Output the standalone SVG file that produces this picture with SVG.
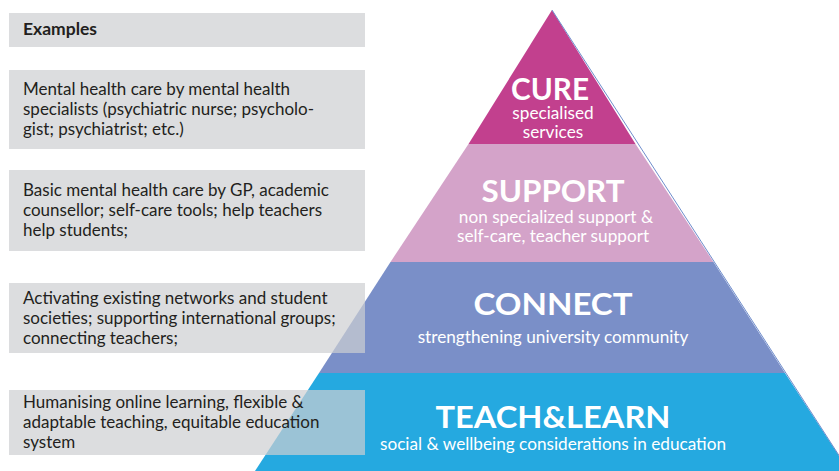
<svg xmlns="http://www.w3.org/2000/svg" width="839" height="471" viewBox="0 0 839 471">
<style>
.box{fill:#cdced2;fill-opacity:0.7}
.ex{font-family:Lato,"Liberation Sans",sans-serif;font-size:17px;fill:#231f20}
.exb{font-family:Lato,"Liberation Sans",sans-serif;font-size:17.5px;font-weight:700;fill:#231f20}
.ttl{font-family:Lato,"Liberation Sans",sans-serif;font-weight:700;fill:#ffffff;text-anchor:middle;font-size:31px}
.sub{font-family:Lato,"Liberation Sans",sans-serif;fill:#ffffff;text-anchor:middle;font-size:17.2px}
</style>
<rect width="839" height="471" fill="#ffffff"/>
<g id="pyramid">
<g id="level-cure">
<polygon points="552,10 635.5,144 468.5,144" fill="#c2408e"/>
<text class="ttl" x="550" y="100" textLength="78" lengthAdjust="spacingAndGlyphs">CURE</text>
<text class="sub" x="553" y="119">specialised</text>
<text class="sub" x="553" y="138">services</text>
</g>
<g id="level-support">
<polygon points="468.5,144 635.5,144 713.5,262 390.5,262" fill="#d4a3c9"/>
<text class="ttl" x="553" y="202" textLength="143" lengthAdjust="spacingAndGlyphs">SUPPORT</text>
<text class="sub" x="556" y="223">non specialized support &amp;</text>
<text class="sub" x="553" y="242">self-care, teacher support</text>
</g>
<g id="level-connect">
<polygon points="390.5,262 713.5,262 785,373 319,373" fill="#7a8fc8"/>
<text class="ttl" x="553" y="315" textLength="159" lengthAdjust="spacingAndGlyphs">CONNECT</text>
<text class="sub" x="553" y="343">strengthening university community</text>
</g>
<g id="level-teach">
<polygon points="319,373 785,373 849,471 255,471" fill="#25a9e0"/>
<text class="ttl" x="553" y="428" textLength="235" lengthAdjust="spacingAndGlyphs">TEACH&amp;LEARN</text>
<text class="sub" x="553" y="450">social &amp; wellbeing considerations in education</text>
</g>
<line x1="552" y1="10" x2="849" y2="471" stroke="#6f8dcc" stroke-width="1"/>
</g>
<g id="examples">
<g id="ex-header">
<rect class="box" x="9" y="13" width="356" height="34"/>
<text class="exb" x="23" y="35">Examples</text>
</g>
<g id="ex-cure">
<rect class="box" x="9" y="70" width="356" height="79"/>
<text class="ex" x="23" y="95">Mental health care by mental health</text>
<text class="ex" x="23" y="115">specialists (psychiatric nurse; psycholo-</text>
<text class="ex" x="23" y="135">gist; psychiatrist; etc.)</text>
</g>
<g id="ex-support">
<rect class="box" x="9" y="170" width="356" height="81"/>
<text class="ex" x="23" y="196">Basic mental health care by GP, academic</text>
<text class="ex" x="23" y="216">counsellor; self-care tools; help teachers</text>
<text class="ex" x="23" y="236">help students;</text>
</g>
<g id="ex-connect">
<rect class="box" x="9" y="283" width="356" height="70"/>
<text class="ex" x="23" y="304">Activating existing networks and student</text>
<text class="ex" x="23" y="324">societies; supporting international groups;</text>
<text class="ex" x="23" y="344">connecting teachers;</text>
</g>
<g id="ex-teach">
<rect class="box" x="9" y="390" width="356" height="65"/>
<text class="ex" x="23" y="408">Humanising online learning, flexible &amp;</text>
<text class="ex" x="23" y="428">adaptable teaching, equitable education</text>
<text class="ex" x="23" y="448">system</text>
</g>
</g>
<g id="connectors"/>
</svg>
